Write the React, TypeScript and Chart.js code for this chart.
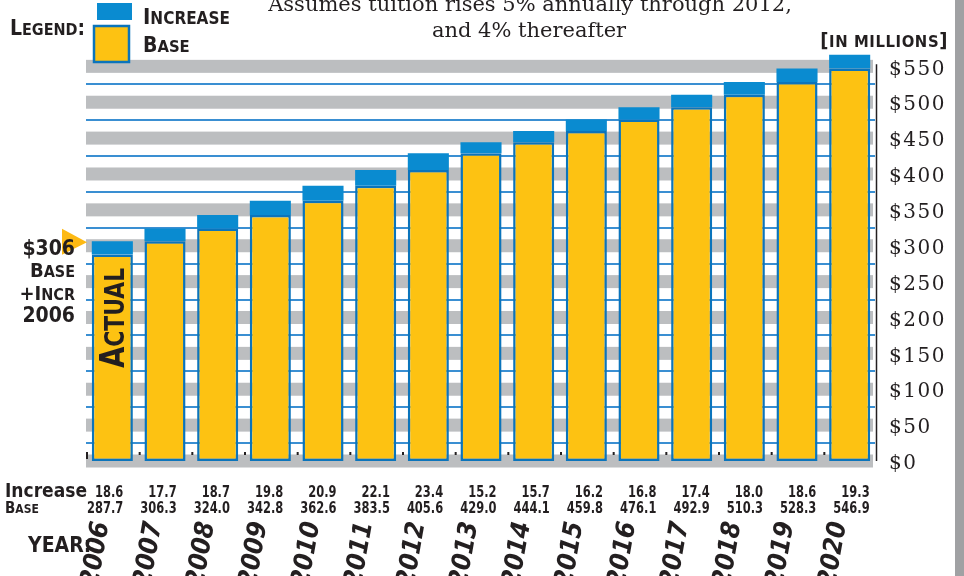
import { useEffect, useRef } from "react";
import { Chart, registerables } from "chart.js";

Chart.register(...registerables);

// Tuition revenue by year, in millions of dollars
const years = ["2006", "2007", "2008", "2009", "2010", "2011", "2012", "2013", "2014", "2015", "2016", "2017", "2018", "2019", "2020"];
const baseValues = [287.7, 306.3, 324.0, 342.8, 362.6, 383.5, 405.6, 429.0, 444.1, 459.8, 476.1, 492.9, 510.3, 528.3, 546.9];
const increaseValues = [18.6, 17.7, 18.7, 19.8, 20.9, 22.1, 23.4, 15.2, 15.7, 16.2, 16.8, 17.4, 18.0, 18.6, 19.3];
const yTickValues = [0, 50, 100, 150, 200, 250, 300, 350, 400, 450, 500, 550];
const yMax = 570;
const titleLines = ["Assumes tuition rises 5% annually through 2012,", "and 4% thereafter"];

const INK = "#231f20";
const YELLOW = "#fdc212";
const BLUE = "#0a8bd0";
const BORDER_BLUE = "#0b74bb";
const BAND_GRAY = "#bcbec0";
const LINE_BLUE = "#3a8fd2";
const ARROW_YELLOW = "#fdb913";
const COND = "'DejaVu Sans Condensed', 'Liberation Sans Narrow', sans-serif";
const SERIF = "'DejaVu Serif', serif";

type Seg = [string, number];

// Draws text made of runs with different sizes (small caps style)
function drawRuns(ctx: CanvasRenderingContext2D, segs: Seg[], x: number, y: number, align: "left" | "right", style = "bold", family = COND) {
  const widths = segs.map(([t, s]) => {
    ctx.font = `${style} ${s}px ${family}`;
    return ctx.measureText(t).width;
  });
  const total = widths.reduce((a, b) => a + b, 0);
  let cx = align === "left" ? x : x - total;
  ctx.textAlign = "left";
  ctx.textBaseline = "alphabetic";
  segs.forEach(([t, s], i) => {
    ctx.font = `${style} ${s}px ${family}`;
    ctx.fillText(t, cx, y);
    cx += widths[i];
  });
  return total;
}

const decor = {
  id: "decor",
  beforeDraw(chart: any) {
    // slightly open tracking for the dollar tick labels
    (chart.ctx as any).letterSpacing = "1.5px";
  },
  beforeDatasetsDraw(chart: any) {
    const { ctx, chartArea: a, scales } = chart;
    (ctx as any).letterSpacing = "0px";
    const y = scales.y;
    const x = scales.x;
    ctx.save();
    // right page strip
    ctx.fillStyle = "#a0a1a3";
    ctx.fillRect(955, 0, 9, 576);

    const tickVals: number[] = y.ticks.map((t: any) => t.value);
    const step = tickVals[1] - tickVals[0];
    // gray bands at each labelled value
    ctx.fillStyle = BAND_GRAY;
    tickVals.forEach((v) => {
      const py = y.getPixelForValue(v);
      ctx.fillRect(a.left, py - 6.5, a.right - a.left - 3, 13);
    });
    // thin blue rules halfway between
    ctx.strokeStyle = LINE_BLUE;
    ctx.lineWidth = 1.8;
    tickVals.forEach((v, i) => {
      if (i === tickVals.length - 1) return;
      const py = Math.round(y.getPixelForValue(v + step / 2));
      ctx.beginPath();
      ctx.moveTo(a.left, py);
      ctx.lineTo(a.right - 1, py);
      ctx.stroke();
    });
    // right frame line
    ctx.strokeStyle = INK;
    ctx.lineWidth = 1.5;
    ctx.beginPath();
    ctx.moveTo(a.right + 0.5, y.getPixelForValue(553));
    ctx.lineTo(a.right + 0.5, y.getPixelForValue(0));
    ctx.stroke();
    // small marks at category boundaries
    ctx.fillStyle = INK;
    const y0 = y.getPixelForValue(0);
    for (let i = 0; i < years.length; i++) {
      const bx = i === 0 ? a.left : (x.getPixelForValue(i - 1) + x.getPixelForValue(i)) / 2;
      ctx.fillRect(bx, y0 - 9, 2, i === 0 ? 7 : 3);
    }
    ctx.restore();
  },
  afterDatasetsDraw(chart: any) {
    const { ctx, scales } = chart;
    const y = scales.y;
    const x = scales.x;
    ctx.save();
    (ctx as any).letterSpacing = "0px";
    ctx.fillStyle = INK;

    // title
    ctx.font = `21px ${SERIF}`;
    ctx.textAlign = "center";
    ctx.textBaseline = "alphabetic";
    ctx.fillText(titleLines[0], 530, 11);
    ctx.fillText(titleLines[1], 529, 37);

    // legend
    drawRuns(ctx, [["L", 21], ["EGEND", 16], [":", 21]], 10, 35, "left");
    ctx.fillStyle = BLUE;
    ctx.fillRect(97, 3, 35, 17);
    ctx.fillStyle = YELLOW;
    ctx.fillRect(94, 26, 35, 36);
    ctx.strokeStyle = BORDER_BLUE;
    ctx.lineWidth = 2.5;
    ctx.strokeRect(94, 26, 35, 36);
    ctx.fillStyle = INK;
    drawRuns(ctx, [["I", 22], ["NCREASE", 17]], 143, 24, "left");
    drawRuns(ctx, [["B", 21], ["ASE", 16.5]], 143, 52, "left");

    // units
    ctx.save();
    (ctx as any).letterSpacing = "0.6px";
    drawRuns(ctx, [["[", 20], ["IN MILLIONS", 16.5], ["]", 20]], 948, 47, "right");
    ctx.restore();

    // arrow pointing at the 2006 total
    const total06 = baseValues[0] + increaseValues[0];
    const ty = y.getPixelForValue(total06);
    ctx.fillStyle = ARROW_YELLOW;
    ctx.beginPath();
    ctx.moveTo(62, ty - 12.5);
    ctx.lineTo(87, ty + 1);
    ctx.lineTo(62, ty + 13.5);
    ctx.closePath();
    ctx.fill();
    ctx.fillStyle = INK;
    drawRuns(ctx, [["$" + Math.round(total06), 21]], 75, 255, "right");
    drawRuns(ctx, [["B", 20], ["ASE", 16]], 75, 277, "right");
    drawRuns(ctx, [["+I", 20], ["NCR", 16]], 75, 300, "right");
    drawRuns(ctx, [[years[0], 21]], 75, 322, "right");

    // vertical label inside first bar
    ctx.save();
    ctx.translate(x.getPixelForValue(0) + 12, 368);
    ctx.rotate(-Math.PI / 2);
    ctx.scale(0.9, 1);
    drawRuns(ctx, [["A", 34], ["CTUAL", 27]], 0, 0, "left");
    ctx.restore();

    // value rows
    drawRuns(ctx, [["Increase", 19]], 5, 497, "left");
    drawRuns(ctx, [["B", 15], ["ASE", 12]], 5, 513, "left");
    ctx.font = `bold 15px ${COND}`;
    ctx.textAlign = "right";
    ctx.textBaseline = "alphabetic";
    years.forEach((_, i) => {
      const cx = x.getPixelForValue(i) + 11 + 0.64 * i;
      ctx.save();
      ctx.translate(cx, 0);
      ctx.scale(0.85, 1);
      ctx.fillText(increaseValues[i].toFixed(1), 0, 497);
      ctx.fillText(baseValues[i].toFixed(1), 0, 513);
      ctx.restore();
    });

    // year labels
    drawRuns(ctx, [["YEAR:", 21]], 28, 552, "left");
    ctx.font = `italic bold 26px ${COND}`;
    ctx.textAlign = "center";
    ctx.textBaseline = "middle";
    years.forEach((yr, i) => {
      ctx.save();
      ctx.translate(x.getPixelForValue(i) - 16, 554);
      ctx.rotate((-80 * Math.PI) / 180);
      ctx.fillText(yr, 0, 0);
      ctx.restore();
    });
    ctx.restore();
  },
};

export default function App() {
  const ref = useRef<HTMLCanvasElement | null>(null);
  useEffect(() => {
    if (!ref.current) return;
    const chart = new Chart(ref.current, {
      type: "bar",
      data: {
        labels: years,
        datasets: [
          {
            label: "Base",
            data: baseValues,
            backgroundColor: YELLOW,
            borderColor: BORDER_BLUE,
            borderWidth: 2.5,
            borderSkipped: false,
            barPercentage: 0.78,
            categoryPercentage: 1,
          },
          {
            label: "Increase",
            data: increaseValues,
            backgroundColor: BLUE,
            borderWidth: 0,
            barPercentage: 0.78,
            categoryPercentage: 1,
          },
        ],
      },
      options: {
        responsive: false,
        animation: false,
        layout: { padding: { left: 86, top: 52, bottom: 115, right: 0 } },
        plugins: { legend: { display: false }, title: { display: false }, tooltip: { enabled: false } },
        scales: {
          x: { stacked: true, display: false },
          y: {
            stacked: true,
            position: "right",
            min: 0,
            max: yMax,
            afterBuildTicks: (s: any) => {
              s.ticks = yTickValues.map((v) => ({ value: v }));
            },
            afterFit: (s: any) => {
              s.width = 88;
            },
            grid: { display: false, drawTicks: false },
            border: { display: false },
            ticks: {
              padding: 13,
              labelOffset: 3,
              color: INK,
              font: { family: SERIF, size: 20 },
              callback: (v: any) => "$" + v,
            },
          },
        },
      },
      plugins: [decor],
    });
    return () => chart.destroy();
  }, []);
  return (
    <div style={{ position: "fixed", left: 0, top: 0, width: 964, height: 576, background: "#fff" }}>
      <canvas ref={ref} width={964} height={576} />
    </div>
  );
}
